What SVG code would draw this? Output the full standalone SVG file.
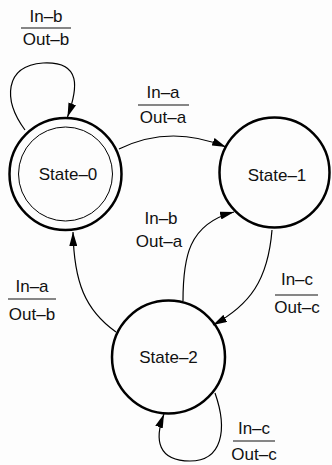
<svg xmlns="http://www.w3.org/2000/svg" width="332" height="465" viewBox="0 0 332 465">
<defs>
<marker id="arr" viewBox="0 0 14 8" refX="14" refY="4" markerWidth="14" markerHeight="8" markerUnits="userSpaceOnUse" orient="auto">
<path d="M0,0 L14,4 L0,8 Z" fill="#000"/>
</marker>
<style>
.st{fill:none;stroke:#000;stroke-width:2.5}
.in{fill:none;stroke:#000;stroke-width:1}
.e{fill:none;stroke:#000;stroke-width:1.2;marker-end:url(#arr)}
.t{font-family:"Liberation Sans",Arial,sans-serif;font-size:17px;fill:#111;text-anchor:middle}
.bar{stroke:#111;stroke-width:1.2}
</style>
</defs>
<rect width="332" height="465" fill="#fdfdfd"/>
<g id="connectors">
<path class="e" d="M25,130 C3,100 4,66 43,63 C82,61 78,88 67.5,117"/>
<path class="e" d="M119,149 Q170,124 226,147"/>
<path class="e" d="M183,301 C183,258 188,224 234,212"/>
<path class="e" d="M272,230 C268,280 250,305 213,325"/>
<path class="e" d="M116,332 C85,310 74,282 73,232"/>
<path class="e" d="M215,393 C228,430 222,461 190,461 C158,461 154,440 164,414"/>
</g>
<g id="labels">
<text class="t" x="46" y="22">In–b</text>
<line class="bar" x1="21" y1="28" x2="71" y2="28"/>
<text class="t" x="46" y="45">Out–b</text>
<text class="t" x="163" y="98">In–a</text>
<line class="bar" x1="138" y1="105" x2="189" y2="105"/>
<text class="t" x="163" y="123">Out–a</text>
<text class="t" x="161" y="224">In–b</text>
<text class="t" x="159" y="247">Out–a</text>
<text class="t" x="32" y="292">In–a</text>
<line class="bar" x1="8" y1="299" x2="56" y2="299"/>
<text class="t" x="32" y="320">Out–b</text>
<text class="t" x="297" y="285">In–c</text>
<line class="bar" x1="275" y1="295" x2="318" y2="295"/>
<text class="t" x="297" y="313">Out–c</text>
<text class="t" x="254" y="434">In–c</text>
<line class="bar" x1="233" y1="441" x2="275" y2="441"/>
<text class="t" x="254" y="460">Out–c</text>
</g>
<g id="state0">
<circle class="st" cx="65.5" cy="174" r="56"/>
<circle class="in" cx="65.5" cy="174" r="47"/>
<text class="t" x="68" y="180">State–0</text>
</g>
<g id="state1">
<circle class="st" cx="274.5" cy="172.5" r="55"/>
<text class="t" x="277" y="181">State–1</text>
</g>
<g id="state2">
<circle class="st" cx="168.5" cy="357" r="56.5"/>
<text class="t" x="168.5" y="363">State–2</text>
</g>
</svg>
